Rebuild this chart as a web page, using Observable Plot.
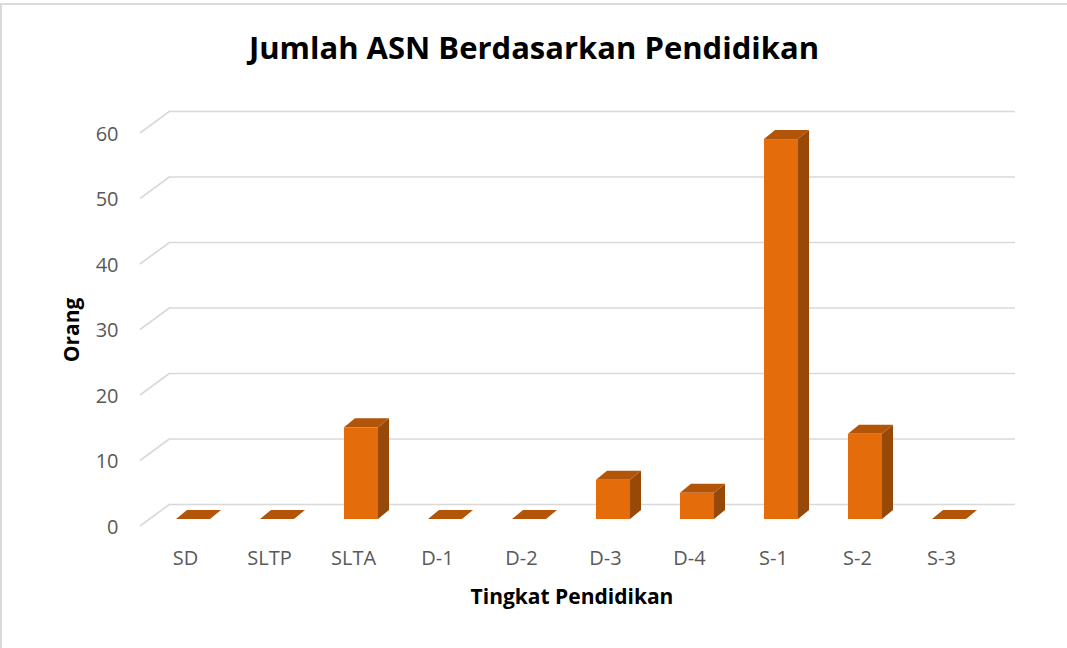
<!DOCTYPE html>
<html><head><meta charset="utf-8">
<script src="https://cdn.jsdelivr.net/npm/d3@7"></script>
<script src="https://cdn.jsdelivr.net/npm/@observablehq/plot@0.6"></script>
<style>
html,body{margin:0;padding:0;background:#fff;}
#chart{position:relative;width:1067px;height:648px;overflow:hidden;}
#border{position:absolute;left:0;top:3px;width:2000px;height:2000px;border-top:2px solid #d9d9d9;border-left:2px solid #d9d9d9;pointer-events:none;}
</style></head><body>
<div id="chart"><div id="border"></div></div>
<script>
const categories = ["SD","SLTP","SLTA","D-1","D-2","D-3","D-4","S-1","S-2","S-3"];
const values = [0,0,14,0,0,6,4,58,13,0];
const yTicks = [0,10,20,30,40,50,60];
const titleText = "Jumlah ASN Berdasarkan Pendidikan";
const xLabel = "Tingkat Pendidikan";
const yLabel = "Orang";

const data = categories.map((c, i) => ({category: c, value: values[i]}));

const FRONT = "#E46C0A", TOP = "#B25508", SIDE = "#984807", GRID = "#d9d9d9", TXT = "#595959";
const DX = 11, DY = 9;          // bar depth
const GX = 21, GY = 15;         // back wall offset
const PAD_IN = 0.59;

function faces(index, scales, vals, dims) {
  const x = scales.x, y = scales.y;
  const step = x(categories[1]) - x(categories[0]);
  const bw = (typeof x.bandwidth === "function") ? x.bandwidth() : step * (1 - PAD_IN);
  const g = d3.create("svg:g");
  for (const d of data) {
    const x0 = x(d.category), x1 = x0 + bw, yt = y(d.value), yb = y(0);
    g.append("polygon")
      .attr("points", [[x1, yt], [x1 + DX, yt - DY], [x1 + DX, yb - DY], [x1, yb]].join(" "))
      .attr("fill", SIDE);
    g.append("polygon")
      .attr("points", [[x0, yt], [x1, yt], [x1 + DX, yt - DY], [x0 + DX, yt - DY]].join(" "))
      .attr("fill", TOP);
  }
  return g.node();
}

function diagonals(index, scales, vals, dims) {
  const g = d3.create("svg:g").attr("stroke", GRID).attr("stroke-width", 1.6);
  for (const t of yTicks) {
    const yy = scales.y(t);
    g.append("line")
      .attr("x1", dims.marginLeft - 9).attr("y1", yy + 7)
      .attr("x2", dims.marginLeft + GX).attr("y2", yy - GY);
  }
  return g.node();
}

const plot = Plot.plot({
  width: 1067,
  height: 648,
  marginLeft: 149,
  marginRight: 73,
  marginTop: 126,
  marginBottom: 129,
  style: {fontFamily: "'Open Sans', sans-serif", background: "transparent"},
  x: {type: "band", domain: categories, paddingInner: PAD_IN, paddingOuter: PAD_IN / 2, align: 0.5},
  y: {domain: [0, 60]},
  marks: [
    Plot.ruleY(yTicks, {stroke: GRID, strokeWidth: 1.6, dx: GX, dy: -GY}),
    diagonals,
    faces,
    Plot.barY(data, {x: "category", y: "value", fill: FRONT}),
    Plot.axisY({ticks: yTicks, tickSize: 0, tickPadding: 31, fontSize: 20, dy: 8, color: TXT, label: null}),
    Plot.axisX({tickSize: 0, tickPadding: 31, fontSize: 20, dx: -8, color: TXT, label: null}),
    Plot.text([titleText], {frameAnchor: "top", textAnchor: "middle", lineAnchor: "middle", dx: -38, dy: -77, fontSize: 31, fontWeight: "bold", fill: "#000"}),
    Plot.text([xLabel], {frameAnchor: "bottom", textAnchor: "middle", lineAnchor: "middle", dy: 78, fontSize: 21, fontWeight: "bold", fill: "#000"}),
    Plot.text([yLabel], {frameAnchor: "left", textAnchor: "middle", lineAnchor: "middle", dx: -77, dy: 7, rotate: -90, fontSize: 21, fontWeight: "bold", fill: "#000"})
  ]
});
document.getElementById("chart").insertBefore(plot, document.getElementById("border"));
</script>
</body></html>
